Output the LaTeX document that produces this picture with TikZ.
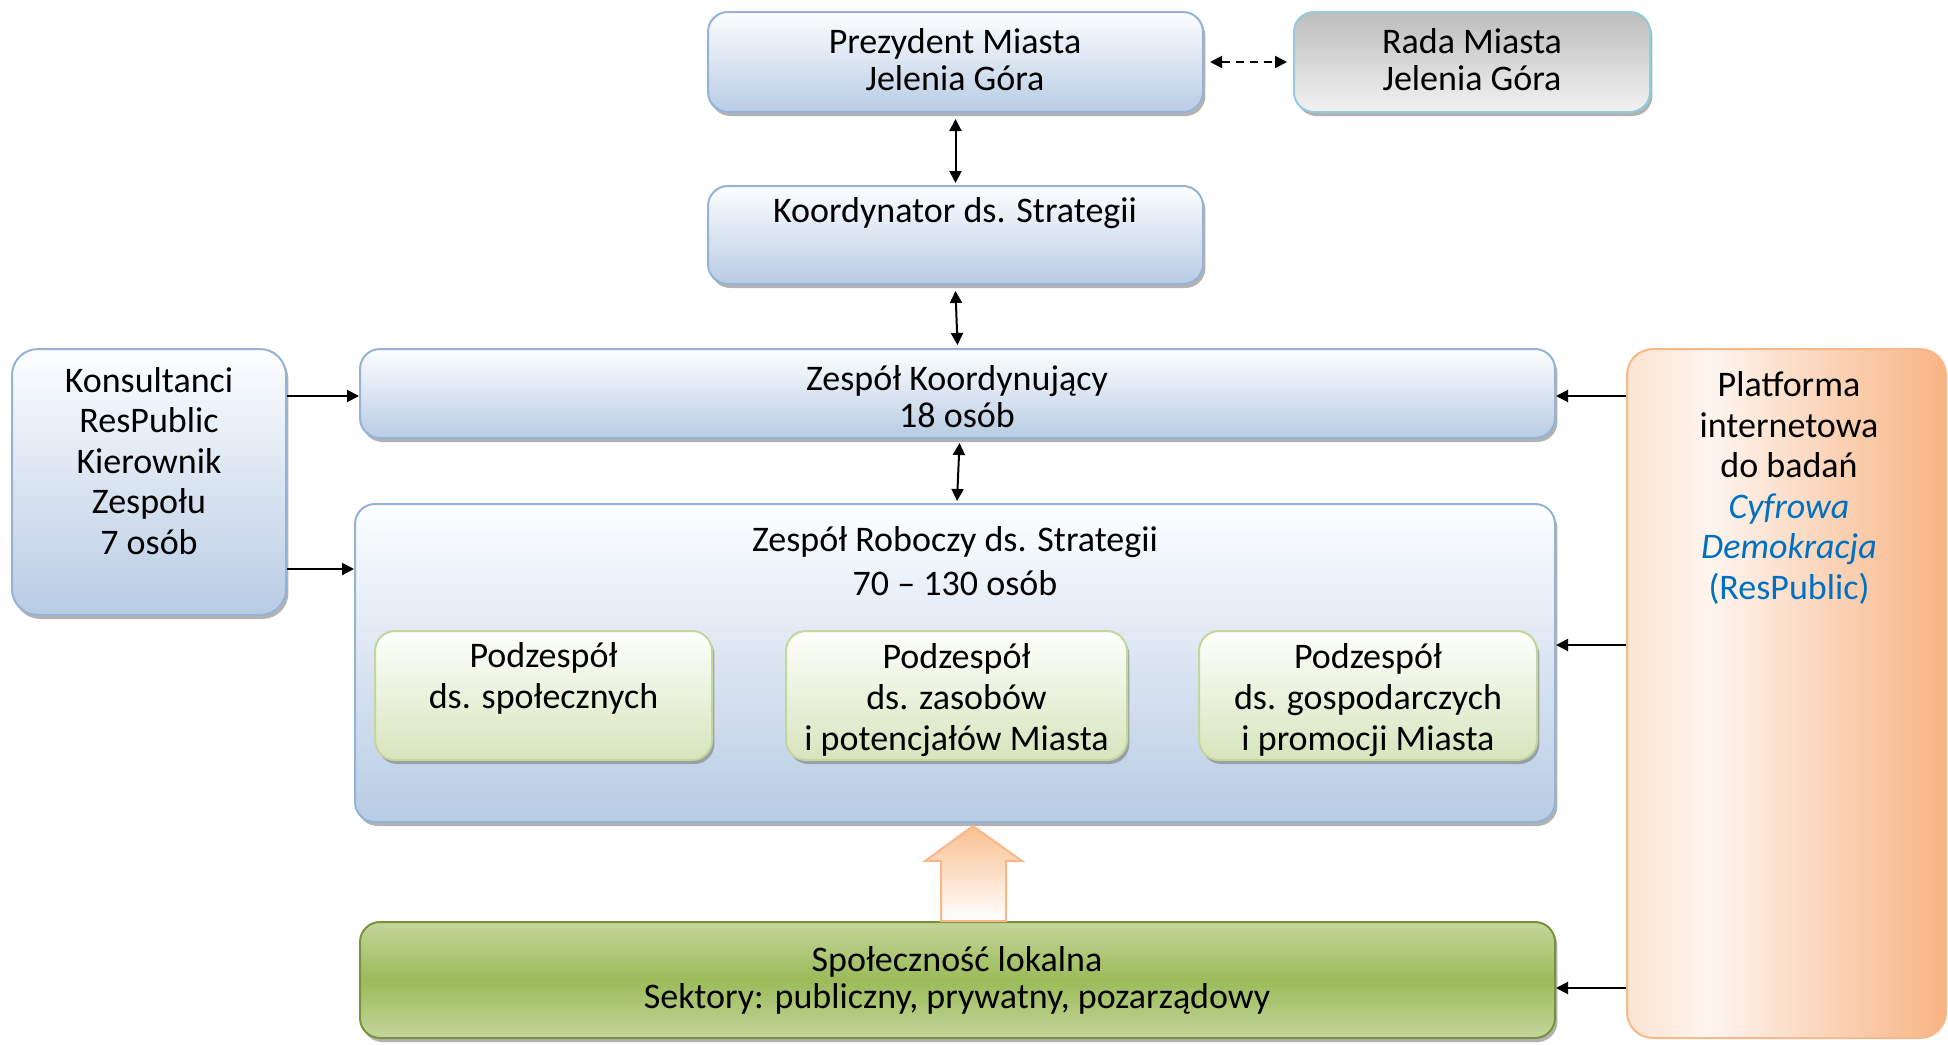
\documentclass[tikz,border=0pt]{standalone}
\usepackage{fontspec}
\setmainfont{Carlito}
\usetikzlibrary{shadows,arrows.meta,calc}
\definecolor{bluetop}{HTML}{FDFEFF}
\definecolor{bluebot}{HTML}{B8CCE4}
\definecolor{blueedge}{HTML}{95B3D7}
\definecolor{graytop}{HTML}{BDBDBD}
\definecolor{graybot}{HTML}{F2F2F2}
\definecolor{grayedge}{HTML}{92CDDC}
\definecolor{greentop}{HTML}{FEFFFC}
\definecolor{greenbot}{HTML}{D7E4BD}
\definecolor{greenedge}{HTML}{C3D69B}
\definecolor{darkgreenA}{HTML}{C3D69B}
\definecolor{darkgreenB}{HTML}{9BBB59}
\definecolor{darkgreenedge}{HTML}{77933C}
\definecolor{pA}{HTML}{FCE4D2}
\definecolor{pB}{HTML}{FEF5EF}
\definecolor{pC}{HTML}{F8B483}
\definecolor{orangeedge}{HTML}{F9B88A}
\definecolor{orangetop}{HTML}{FAC090}
\definecolor{linkblue}{HTML}{0070C0}
\pgfdeclarehorizontalshading{platshade}{100bp}{color(0bp)=(pA); color(25bp)=(pA); color(38bp)=(pB); color(75bp)=(pC); color(100bp)=(pC)}
\tikzset{
  shad/.style={drop shadow={shadow xshift=1.2pt, shadow yshift=-2pt, fill=black!55, opacity=0.55}},
  bluebox/.style={shad, draw=blueedge, line width=1pt, rounded corners=10pt, top color=bluetop, bottom color=bluebot, inner sep=0pt},
  graybox/.style={shad, draw=grayedge, line width=1pt, rounded corners=10pt, top color=graytop, bottom color=graybot, inner sep=0pt},
  subbox/.style={shad, draw=greenedge, line width=1pt, rounded corners=10pt, top color=greentop, bottom color=greenbot, inner sep=0pt},
  commbox/.style={shad, draw=darkgreenedge, line width=1pt, rounded corners=10pt, top color=darkgreenA, bottom color=darkgreenA, middle color=darkgreenB, inner sep=0pt},
  platbox/.style={draw=orangeedge, line width=1pt, rounded corners=13pt, shading=platshade, inner sep=0pt},
  txt/.style={align=center, inner sep=0pt, font=\fontsize{18}{18.5}\selectfont},
  sidetxt/.style={align=center, inner sep=0pt, font=\fontsize{18}{20.3}\selectfont},
  dbl/.style={{Triangle[length=6pt,width=6pt]}-{Triangle[length=6pt,width=6pt]}, line width=1pt},
  sgl/.style={-{Triangle[length=6pt,width=6pt]}, line width=1pt},
}
\begin{document}
\begin{tikzpicture}[x=0.5pt,y=-0.5pt]
\useasboundingbox (0,0) rectangle (1948,1044);
% boxes
\node[bluebox, minimum width=247.5pt, minimum height=50pt] (prez) at (955.5,62) {};
\node[graybox, minimum width=178pt, minimum height=50pt] (rada) at (1472,62) {};
\node[bluebox, minimum width=247.5pt, minimum height=49pt] (koord) at (955.5,235) {};
\node[bluebox, minimum width=597.5pt, minimum height=44.5pt] (zk) at (957.5,393.5) {};
\node[bluebox, minimum width=600pt, minimum height=159pt] (zr) at (955,663) {};
\node[subbox, minimum width=168.5pt, minimum height=64.5pt] (p1) at (543.5,695.5) {};
\node[subbox, minimum width=170.5pt, minimum height=64.5pt] (p2) at (956.5,695.5) {};
\node[subbox, minimum width=169pt, minimum height=64.5pt] (p3) at (1368,695.5) {};
\node[commbox, minimum width=597.5pt, minimum height=58pt] (spol) at (957.5,980) {};
\node[bluebox, rounded corners=13pt, minimum width=137pt, minimum height=133pt] (kons) at (149,482) {};
\node[platbox, minimum width=159.5pt, minimum height=344.5pt] (plat) at (1786.5,693.5) {};
% texts
\node[txt] (prezt) at (955,60) {Prezydent Miasta\\Jelenia Góra};
\node[txt] (radat) at (1472,60) {Rada Miasta\\Jelenia Góra};
\node[txt] (koordt) at (955,213) {Koordynator ds. Strategii};
\node[txt] (zkt) at (957,397) {Zespół Koordynujący\\18 osób};
\node[txt, font=\fontsize{18}{22}\selectfont] (zrt) at (955,561) {Zespół Roboczy ds. Strategii\\70 – 130 osób};
\node[txt, font=\fontsize{18}{20.5}\selectfont] (p1t) at (543.5,678) {Podzespół\\ds. społecznych};
\node[txt, font=\fontsize{18}{20.5}\selectfont] (p2t) at (956.5,700) {Podzespół\\ds. zasobów\\i potencjałów Miasta};
\node[txt, font=\fontsize{18}{20.5}\selectfont] (p3t) at (1368,700) {Podzespół\\ds. gospodarczych\\i promocji Miasta};
\node[txt] (spolt) at (957,980) {Społeczność lokalna\\Sektory: publiczny, prywatny, pozarządowy};
\node[sidetxt] (konst) at (149,461) {Konsultanci\\ResPublic\\Kierownik\\Zespołu\\7 osób};
\node[sidetxt] (platt) at (1789,488) {Platforma\\internetowa\\do badań\\{\color{linkblue}\itshape Cyfrowa}\\{\color{linkblue}\itshape Demokracja}\\{\color{linkblue}(ResPublic)}};
% connectors
\draw[dbl, dashed, dash pattern=on 4pt off 3pt] ([xshift=3pt]prez.east) -- ([xshift=-3pt]rada.west);
\draw[dbl] ([yshift=-3pt]prez.south) -- ([yshift=1pt]koord.north);
\draw[dbl] ([yshift=-3pt]koord.south) -- ([yshift=1.5pt]zk.north);
\draw[dbl] ([xshift=1pt,yshift=-2pt]zk.south) -- ([xshift=1pt,yshift=1pt]zr.north);
\coordinate (k1) at (kons.east |- 0,396);
\coordinate (k2) at (kons.east |- 0,569);
\draw[sgl] (k1) -- (k1 -| zk.west);
\draw[sgl] (k2) -- (k2 -| zr.west);
\coordinate (q1) at (plat.west |- 0,396);
\coordinate (q2) at (plat.west |- 0,645);
\coordinate (q3) at (plat.west |- 0,988);
\draw[sgl] (q1) -- (q1 -| zk.east);
\draw[sgl] (q2) -- (q2 -| zr.east);
\draw[sgl] (q3) -- (q3 -| spol.east);
% hollow arrow from community to working team
\path[draw=orangeedge, line width=1pt, top color=orangetop, bottom color=white]
  (941,921) -- (941,861) -- (925,861) -- (973,826) -- (1022,861) -- (1006,861) -- (1006,921) -- cycle;
\end{tikzpicture}
\end{document}
